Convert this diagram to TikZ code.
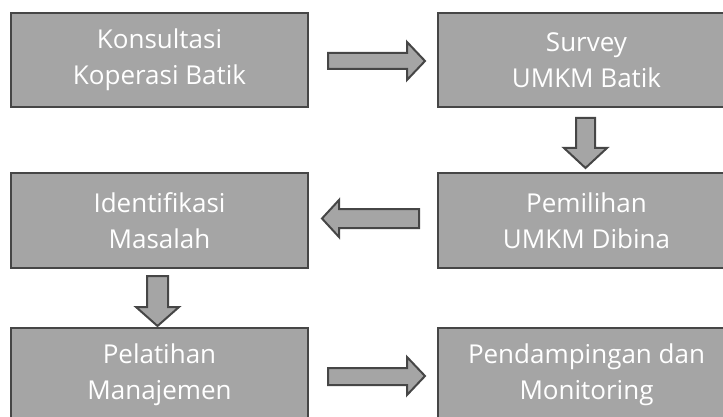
\documentclass[tikz,border=0pt]{standalone}
\usepackage{fontspec}
\setmainfont{Open Sans}
\definecolor{boxfill}{HTML}{A5A5A5}
\definecolor{boxline}{HTML}{464646}
\tikzset{
  stepbox/.style={draw=boxline, fill=boxfill, line width=2pt, minimum width=297pt, minimum height=94pt, inner sep=0pt, text=white, font=\fontsize{26}{36}\selectfont, align=center},
  blockarrow/.style={draw=boxline, fill=boxfill, line width=2pt, line join=miter}
}
\begin{document}
\begin{tikzpicture}[x=1pt,y=1pt]
\useasboundingbox (0,0) rectangle (723,-417);
\clip (0,0) rectangle (723,-417);
\node[stepbox] (konsultasi) at (159.5,-60) {Konsultasi\\Koperasi Batik};
\node[stepbox] (survey) at (586.5,-60) {Survey\\UMKM Batik};
\node[stepbox] (pemilihan) at (586.5,-220.5) {Pemilihan\\UMKM Dibina};
\node[stepbox] (identifikasi) at (159.5,-220.5) {Identifikasi\\Masalah};
\node[stepbox] (pelatihan) at (159.5,-375) {Pelatihan\\Manajemen};
\node[stepbox] (pendampingan) at (586.5,-375) {Pendampingan dan\\Monitoring};
% arrow konsultasi -> survey
\draw[blockarrow] (328,-53) -- (407,-53) -- (407,-42) -- (425,-61) -- (407,-80) -- (407,-69) -- (328,-69) -- cycle;
% arrow survey -> pemilihan
\draw[blockarrow] (576,-118) -- (595,-118) -- (595,-148) -- (607,-148) -- (585.5,-168) -- (564,-148) -- (576,-148) -- cycle;
% arrow pemilihan -> identifikasi
\draw[blockarrow] (419,-209) -- (339,-209) -- (339,-200) -- (322,-218.5) -- (339,-237) -- (339,-228) -- (419,-228) -- cycle;
% arrow identifikasi -> pelatihan
\draw[blockarrow] (147,-276) -- (168,-276) -- (168,-307) -- (179,-307) -- (157.5,-326) -- (136,-307) -- (147,-307) -- cycle;
% arrow pelatihan -> pendampingan
\draw[blockarrow] (328,-368) -- (407,-368) -- (407,-357) -- (425,-376) -- (407,-395) -- (407,-385) -- (328,-385) -- cycle;
\end{tikzpicture}
\end{document}
